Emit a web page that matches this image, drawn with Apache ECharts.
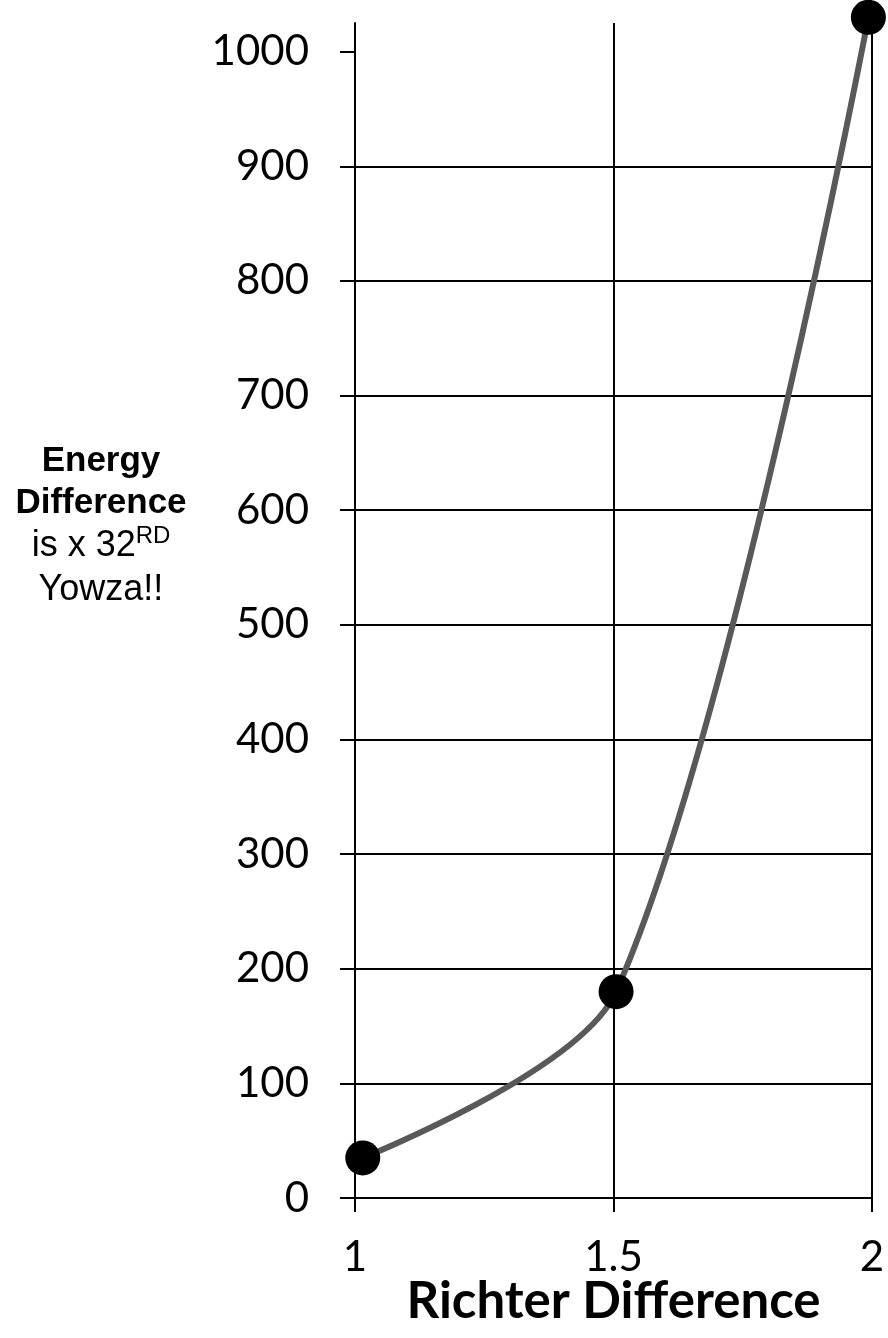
<!DOCTYPE html>
<html>
<head>
<meta charset="utf-8">
<script src="https://cdn.jsdelivr.net/npm/echarts@6/dist/echarts.min.js"></script>
<style>
  html, body { margin: 0; padding: 0; background: #fff; }
  #chart { width: 888px; height: 1338px; }
</style>
</head>
<body>
<div id="chart"></div>
<script>
// values
const richterDiff = [1.015, 1.505, 1.993]
const energyDiff = [35, 180, 1030]
const xTicks = [1, 1.5, 2]
const yTicks = [0, 100, 200, 300, 400, 500, 600, 700, 800, 900, 1000]
const xTitle = 'Richter Difference'
const sideNote = ['Energy', 'Difference', 'is x 32', 'RD', 'Yowza!!']

const chart = echarts.init(document.getElementById('chart'), null, { renderer: 'canvas' })

const black = '#000'
const tickFont = 'Lato'
const noteFont = 'Liberation Sans'

const option = {
  animation: false,
  backgroundColor: '#fff',
  grid: { left: 355, right: 16, top: 23, bottom: 140, containLabel: false, outerBoundsMode: 'none' },
  xAxis: {
    type: 'value',
    min: xTicks[0],
    max: xTicks[xTicks.length - 1],
    interval: 0.5,
    name: xTitle,
    nameLocation: 'middle',
    nameGap: 78,
    nameMoveOverlap: false,
    nameTextStyle: { fontFamily: tickFont, fontWeight: 'bold', fontSize: 51, color: black },
    axisLine: { onZero: false, lineStyle: { color: black, width: 2 } },
    axisTick: { show: true, length: 14, inside: false, lineStyle: { color: black, width: 2 } },
    axisLabel: { margin: 38, fontFamily: tickFont, fontSize: 42, color: black, formatter: (v) => String(v) },
    splitLine: { show: true, lineStyle: { color: black, width: 2 } },
  },
  yAxis: {
    type: 'value',
    min: 0,
    max: 1025,
    interval: 100,
    axisLine: { show: true, lineStyle: { color: black, width: 2 } },
    axisTick: { show: true, length: 15, customValues: yTicks, lineStyle: { color: black, width: 2 } },
    axisLabel: { margin: 46, customValues: yTicks, fontFamily: tickFont, fontSize: 42, color: black, formatter: (v) => String(v) },
    splitLine: { show: true, showMaxLine: false, lineStyle: { color: black, width: 2 } },
  },
  graphic: [
    {
      type: 'text',
      x: 101,
      y: 440,
      style: {
        align: 'center',
        verticalAlign: 'top',
        text:
          '{b|' + sideNote[0] + '}\n{b|' + sideNote[1] + '}\n{n|' + sideNote[2] + '}{s|' + sideNote[3] + '}\n{n|' + sideNote[4] + '}',
        rich: {
          b: { fontFamily: noteFont, fontWeight: 'bold', fontSize: 35, lineHeight: 42, color: black },
          n: { fontFamily: noteFont, fontSize: 36, lineHeight: 44, color: black },
          s: { fontFamily: noteFont, fontSize: 24, lineHeight: 30, verticalAlign: 'top', color: black },
        },
      },
    },
  ],
  series: [
    {
      type: 'line',
      data: richterDiff.map((x, i) => [x, energyDiff[i]]),
      smooth: 0.3,
      clip: false,
      symbol: 'circle',
      symbolSize: 35,
      itemStyle: { color: black },
      lineStyle: { color: '#595959', width: 6 },
      emphasis: { disabled: true },
    },
  ],
}

chart.setOption(option)
</script>
</body>
</html>
